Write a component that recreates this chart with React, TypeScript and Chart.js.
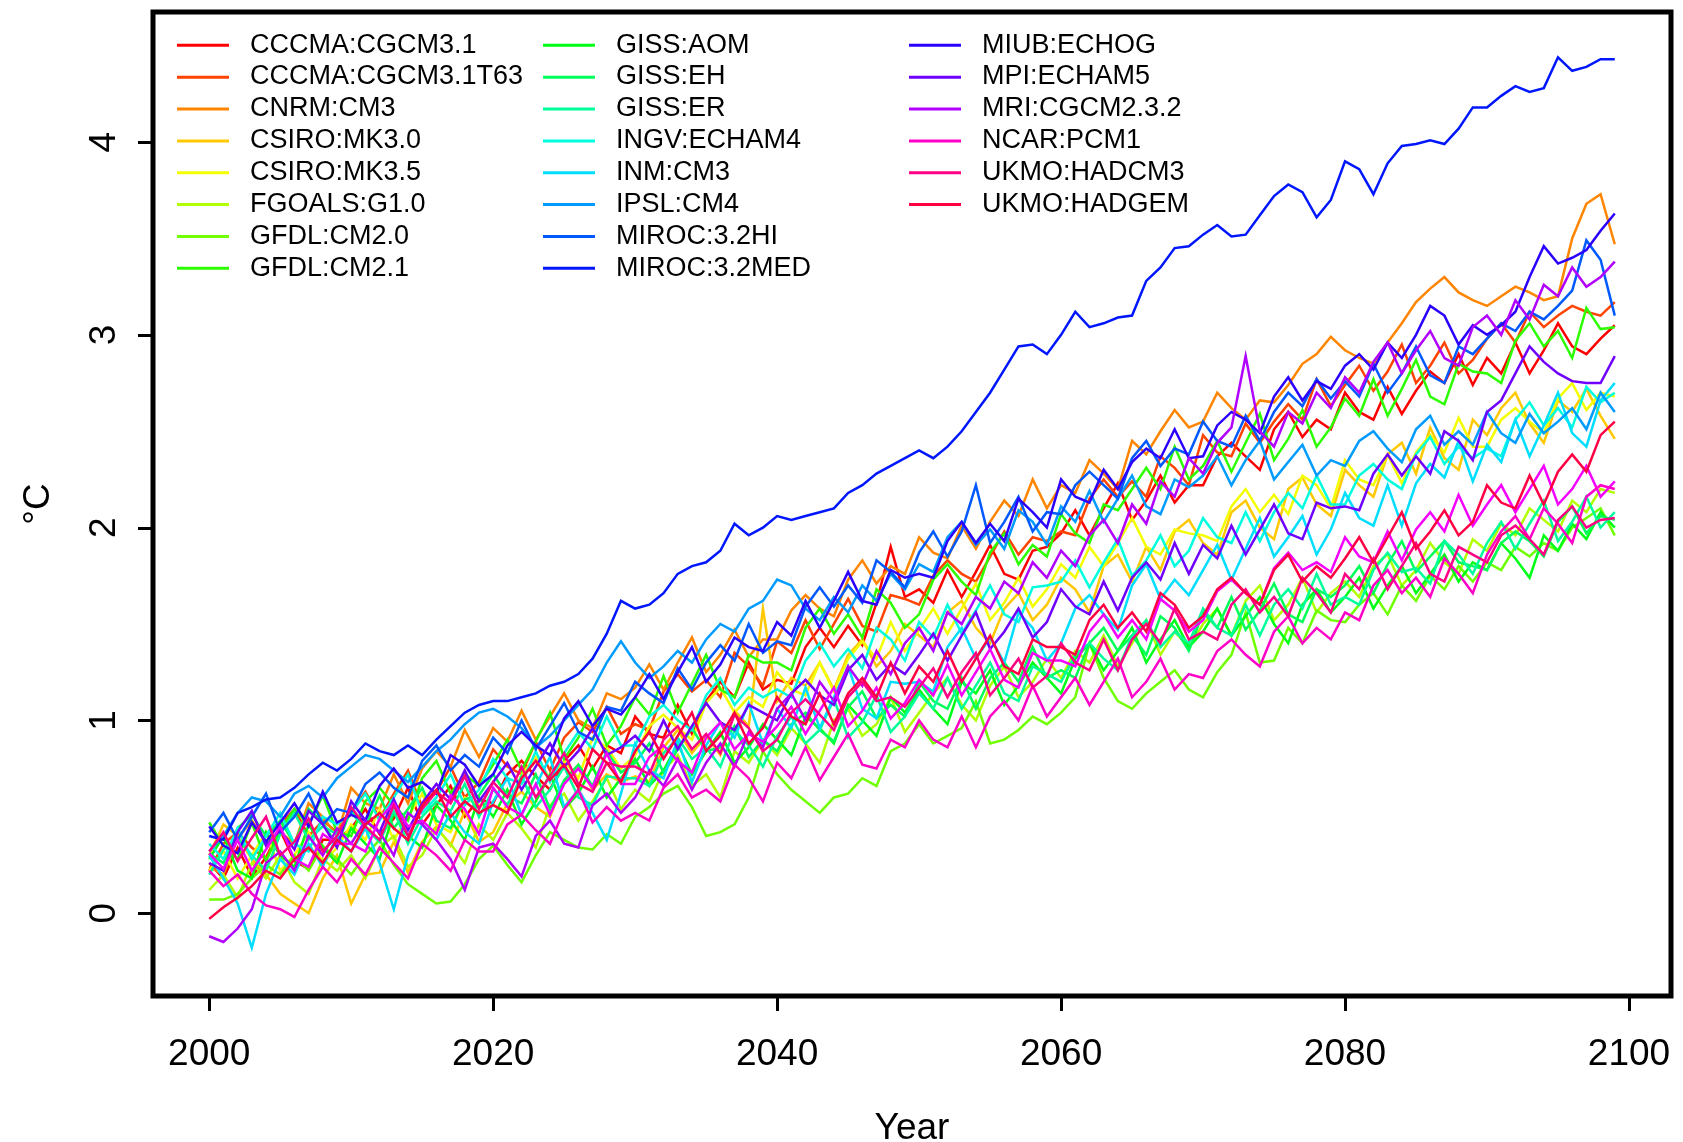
import React, { useEffect, useRef } from "react";
import { Chart, registerables } from "chart.js";

Chart.register(...registerables);

const years = [
  2000, 2001, 2002, 2003, 2004, 2005, 2006, 2007, 2008, 2009,
  2010, 2011, 2012, 2013, 2014, 2015, 2016, 2017, 2018, 2019,
  2020, 2021, 2022, 2023, 2024, 2025, 2026, 2027, 2028, 2029,
  2030, 2031, 2032, 2033, 2034, 2035, 2036, 2037, 2038, 2039,
  2040, 2041, 2042, 2043, 2044, 2045, 2046, 2047, 2048, 2049,
  2050, 2051, 2052, 2053, 2054, 2055, 2056, 2057, 2058, 2059,
  2060, 2061, 2062, 2063, 2064, 2065, 2066, 2067, 2068, 2069,
  2070, 2071, 2072, 2073, 2074, 2075, 2076, 2077, 2078, 2079,
  2080, 2081, 2082, 2083, 2084, 2085, 2086, 2087, 2088, 2089,
  2090, 2091, 2092, 2093, 2094, 2095, 2096, 2097, 2098, 2099,
];

const cccmaCgcm31 = [
  0.26, 0.18, 0.34, 0.19, 0.29, 0.43, 0.27, 0.23, 0.38, 0.38,
  0.44, 0.54, 0.41, 0.49, 0.65, 0.46, 0.56, 0.66, 0.50, 0.59,
  0.57, 0.72, 0.79, 0.71, 0.64, 0.79, 0.87, 0.75, 0.87, 0.83,
  1.02, 0.93, 0.91, 1.08, 0.93, 1.10, 1.20, 1.12, 1.30, 1.16,
  1.21, 1.19, 1.38, 1.48, 1.38, 1.49, 1.39, 1.61, 1.90, 1.64,
  1.68, 1.61, 1.78, 1.64, 1.77, 1.91, 1.76, 1.73, 1.88, 1.90,
  1.97, 2.09, 1.96, 2.10, 2.23, 2.04, 2.14, 2.27, 2.13, 2.22,
  2.22, 2.37, 2.44, 2.37, 2.30, 2.51, 2.60, 2.47, 2.56, 2.51,
  2.70, 2.60, 2.56, 2.73, 2.59, 2.71, 2.81, 2.75, 2.90, 2.74,
  2.88, 2.80, 2.96, 2.80, 2.92, 3.06, 2.94, 2.90, 2.98, 3.05,
];

const cccmaCgcm31T63 = [
  0.22, 0.36, 0.42, 0.34, 0.28, 0.46, 0.54, 0.40, 0.48, 0.42,
  0.52, 0.63, 0.49, 0.62, 0.74, 0.55, 0.63, 0.76, 0.60, 0.68,
  0.85, 0.76, 0.72, 0.89, 0.74, 0.91, 0.99, 0.94, 1.07, 0.93,
  0.98, 0.95, 1.15, 1.24, 1.15, 1.21, 1.12, 1.35, 1.28, 1.18,
  1.41, 1.35, 1.52, 1.37, 1.50, 1.63, 1.49, 1.46, 1.65, 1.63,
  1.60, 1.75, 1.83, 1.76, 1.72, 1.85, 1.98, 1.86, 1.95, 1.93,
  1.98, 1.96, 2.15, 2.25, 2.16, 2.24, 2.16, 2.37, 2.31, 2.22,
  2.48, 2.39, 2.37, 2.54, 2.44, 2.55, 2.64, 2.56, 2.77, 2.63,
  2.74, 2.84, 2.71, 2.81, 2.95, 2.75, 2.84, 2.96, 2.80, 2.87,
  2.98, 3.06, 2.96, 3.12, 3.04, 3.10, 3.15, 3.12, 3.10, 3.17,
];

const cnrmCm3 = [
  0.24, 0.20, 0.39, 0.48, 0.37, 0.42, 0.36, 0.57, 0.50, 0.40,
  0.65, 0.57, 0.54, 0.72, 0.57, 0.75, 0.84, 0.76, 0.95, 0.81,
  0.96, 0.89, 1.05, 0.90, 1.02, 1.14, 1.00, 0.96, 1.14, 1.11,
  1.17, 1.29, 1.16, 1.30, 1.43, 1.25, 1.34, 1.47, 1.33, 1.42,
  1.42, 1.57, 1.65, 1.58, 1.54, 1.73, 1.83, 1.71, 1.80, 1.76,
  1.95, 1.87, 1.84, 2.01, 1.89, 2.03, 2.14, 2.06, 2.25, 2.10,
  2.22, 2.18, 2.35, 2.28, 2.20, 2.45, 2.38, 2.50, 2.61, 2.52,
  2.55, 2.70, 2.62, 2.56, 2.66, 2.65, 2.74, 2.85, 2.90, 2.99,
  2.92, 2.88, 2.85, 2.96, 3.06, 3.17, 3.24, 3.30, 3.22, 3.18,
  3.15, 3.20, 3.25, 3.22, 3.18, 3.20, 3.50, 3.68, 3.73, 3.47,
];

const csiroMk30 = [
  0.30, 0.46, 0.40, 0.28, 0.20, 0.10, 0.05, 0.00, 0.18, 0.30,
  0.05, 0.20, 0.21, 0.37, 0.21, 0.37, 0.45, 0.35, 0.53, 0.37,
  0.42, 0.57, 0.63, 0.55, 0.50, 0.68, 0.77, 0.64, 0.72, 0.68,
  0.71, 0.68, 0.86, 0.95, 0.83, 0.92, 0.82, 1.05, 0.97, 1.58,
  1.10, 1.22, 1.18, 1.30, 1.16, 1.34, 1.42, 1.28, 1.36, 1.50,
  1.44, 1.38, 1.56, 1.62, 1.48, 1.40, 1.58, 1.66, 1.52, 1.60,
  1.74, 1.68, 1.56, 1.80, 1.86, 1.72, 1.90, 1.78, 1.98, 2.04,
  1.92, 1.86, 2.08, 2.14, 2.00, 1.94, 2.20, 2.26, 2.12, 2.06,
  2.30, 2.22, 2.16, 2.38, 2.44, 2.28, 2.52, 2.36, 2.30, 2.56,
  2.48, 2.62, 2.70, 2.54, 2.44, 2.66, 2.60, 2.72, 2.58, 2.46,
];

const csiroMk35 = [
  0.22, 0.32, 0.18, 0.30, 0.42, 0.22, 0.30, 0.42, 0.26, 0.34,
  0.46, 0.38, 0.54, 0.38, 0.50, 0.62, 0.46, 0.42, 0.60, 0.56,
  0.56, 0.53, 0.72, 0.81, 0.70, 0.79, 0.70, 0.91, 0.86, 0.75,
  0.82, 0.97, 1.03, 0.96, 0.90, 1.09, 1.17, 1.04, 1.12, 1.07,
  1.25, 1.16, 1.13, 1.30, 1.15, 1.32, 1.41, 1.32, 1.51, 1.36,
  1.47, 1.58, 1.45, 1.58, 1.71, 1.52, 1.61, 1.74, 1.59, 1.68,
  1.81, 1.74, 1.90, 1.80, 1.92, 2.05, 1.90, 1.86, 1.99, 1.97,
  1.96, 1.93, 2.11, 2.20, 2.08, 2.17, 2.07, 2.27, 2.22, 2.10,
  2.35, 2.25, 2.22, 2.38, 2.23, 2.39, 2.48, 2.39, 2.57, 2.42,
  2.42, 2.56, 2.62, 2.55, 2.49, 2.67, 2.75, 2.61, 2.70, 2.68,
];

const fgoalsG10 = [
  0.12, 0.20, 0.08, 0.26, 0.18, 0.30, 0.16, 0.10, 0.28, 0.22,
  0.30, 0.18, 0.34, 0.40, 0.24, 0.30, 0.44, 0.36, 0.26, 0.46,
  0.38, 0.52, 0.44, 0.34, 0.56, 0.62, 0.48, 0.58, 0.70, 0.54,
  0.64, 0.58, 0.74, 0.82, 0.66, 0.72, 0.60, 0.84, 0.78, 0.90,
  0.82, 0.96, 0.88, 0.78, 1.00, 1.06, 0.92, 0.98, 1.12, 0.94,
  1.04, 1.14, 1.22, 1.08, 1.00, 1.18, 1.28, 1.12, 1.20, 1.32,
  1.22, 1.36, 1.30, 1.44, 1.28, 1.40, 1.52, 1.34, 1.46, 1.38,
  1.50, 1.58, 1.44, 1.62, 1.70, 1.52, 1.60, 1.74, 1.56, 1.66,
  1.72, 1.64, 1.80, 1.86, 1.70, 1.78, 1.92, 1.82, 1.76, 1.94,
  1.88, 2.02, 1.96, 2.10, 2.04, 1.98, 2.14, 2.08, 2.20, 2.18,
];

const gfdlCm20 = [
  0.07, 0.07, 0.10, 0.18, 0.25, 0.20, 0.30, 0.22, 0.35, 0.28,
  0.20, 0.30, 0.38, 0.25, 0.15, 0.10, 0.05, 0.06, 0.15, 0.28,
  0.35, 0.25, 0.16, 0.30, 0.42, 0.38, 0.34, 0.33, 0.41, 0.36,
  0.50, 0.55, 0.62, 0.66, 0.55, 0.40, 0.42, 0.46, 0.60, 0.84,
  0.72, 0.64, 0.58, 0.52, 0.60, 0.62, 0.70, 0.66, 0.84, 0.88,
  0.98, 0.88, 0.92, 0.96, 1.10, 0.88, 0.90, 0.95, 1.02, 0.98,
  1.04, 1.12, 1.40, 1.22, 1.10, 1.06, 1.14, 1.20, 1.26, 1.16,
  1.12, 1.25, 1.34, 1.56, 1.30, 1.31, 1.48, 1.40, 1.57, 1.52,
  1.51, 1.60, 1.66, 1.55, 1.70, 1.62, 1.75, 1.68, 1.80, 1.72,
  1.82, 1.78, 1.90, 1.85, 1.92, 1.88, 2.00, 2.05, 2.10, 1.96,
];

const gfdlCm21 = [
  0.47, 0.35, 0.28, 0.47, 0.27, 0.43, 0.54, 0.46, 0.61, 0.42,
  0.40, 0.58, 0.65, 0.56, 0.48, 0.70, 0.79, 0.62, 0.72, 0.66,
  0.77, 0.90, 0.74, 0.89, 1.04, 0.80, 0.91, 1.06, 0.87, 0.97,
  1.12, 1.03, 1.23, 1.04, 1.19, 1.34, 1.16, 1.12, 1.34, 1.30,
  1.30, 1.26, 1.48, 1.58, 1.45, 1.55, 1.43, 1.68, 1.61, 1.48,
  1.55, 1.73, 1.81, 1.72, 1.65, 1.87, 1.97, 1.81, 1.91, 1.85,
  2.07, 1.97, 1.92, 2.12, 2.09, 2.20, 2.31, 2.20, 2.42, 2.25,
  2.32, 2.45, 2.29, 2.44, 2.59, 2.35, 2.46, 2.61, 2.42, 2.52,
  2.67, 2.58, 2.77, 2.58, 2.72, 2.87, 2.68, 2.64, 2.85, 2.81,
  2.80, 2.75, 2.97, 3.06, 2.94, 3.02, 2.88, 3.14, 3.03, 3.04,
];

const gissAom = [
  0.28, 0.40, 0.22, 0.18, 0.42, 0.30, 0.24, 0.46, 0.34, 0.26,
  0.44, 0.36, 0.28, 0.52, 0.40, 0.34, 0.56, 0.48, 0.38, 0.60,
  0.50, 0.64, 0.46, 0.58, 0.72, 0.54, 0.62, 0.76, 0.60, 0.70,
  0.80, 0.66, 0.74, 0.88, 0.72, 0.84, 0.94, 0.78, 0.86, 0.98,
  0.90, 0.82, 1.02, 0.96, 0.88, 1.08, 1.00, 0.92, 1.12, 1.04,
  1.16, 1.06, 0.98, 1.20, 1.14, 1.26, 1.08, 1.18, 1.30, 1.22,
  1.14, 1.32, 1.40, 1.26, 1.36, 1.48, 1.30, 1.42, 1.52, 1.38,
  1.46, 1.58, 1.44, 1.54, 1.64, 1.50, 1.40, 1.60, 1.68, 1.56,
  1.64, 1.74, 1.58, 1.70, 1.80, 1.66, 1.76, 1.86, 1.72, 1.82,
  1.78, 1.92, 1.84, 1.74, 1.96, 1.88, 2.02, 1.94, 2.08, 2.00,
];

const gissEh = [
  0.31, 0.26, 0.44, 0.51, 0.40, 0.48, 0.36, 0.54, 0.47, 0.35,
  0.54, 0.45, 0.61, 0.44, 0.54, 0.65, 0.48, 0.44, 0.59, 0.61,
  0.72, 0.61, 0.57, 0.72, 0.54, 0.69, 0.77, 0.66, 0.84, 0.73,
  0.78, 0.88, 0.73, 0.85, 0.96, 0.84, 0.86, 0.97, 0.81, 0.90,
  0.84, 0.98, 1.04, 0.95, 0.89, 1.07, 1.15, 1.01, 1.08, 1.02,
  1.20, 1.10, 1.06, 1.22, 1.06, 1.22, 1.30, 1.20, 1.38, 1.22,
  1.26, 1.22, 1.40, 1.48, 1.36, 1.44, 1.34, 1.54, 1.48, 1.36,
  1.56, 1.48, 1.64, 1.47, 1.57, 1.71, 1.55, 1.51, 1.68, 1.64,
  1.70, 1.80, 1.66, 1.81, 1.93, 1.77, 1.85, 1.93, 1.82, 1.80,
  1.78, 1.92, 1.98, 1.93, 1.85, 2.03, 2.11, 1.97, 2.06, 2.04,
];

const gissEr = [
  0.20, 0.33, 0.39, 0.30, 0.22, 0.41, 0.52, 0.38, 0.45, 0.41,
  0.52, 0.44, 0.37, 0.53, 0.36, 0.50, 0.58, 0.53, 0.67, 0.50,
  0.64, 0.56, 0.71, 0.55, 0.64, 0.76, 0.60, 0.56, 0.71, 0.70,
  0.70, 0.66, 0.83, 0.91, 0.80, 0.86, 0.76, 0.95, 0.87, 0.76,
  0.92, 1.02, 0.88, 0.95, 1.11, 0.91, 0.99, 1.13, 0.94, 1.02,
  1.14, 1.06, 1.22, 1.06, 1.18, 1.30, 1.14, 1.10, 1.28, 1.24,
  1.20, 1.34, 1.40, 1.32, 1.26, 1.44, 1.52, 1.38, 1.46, 1.40,
  1.58, 1.48, 1.44, 1.60, 1.44, 1.60, 1.68, 1.58, 1.76, 1.60,
  1.64, 1.60, 1.78, 1.87, 1.77, 1.79, 1.71, 1.93, 1.86, 1.76,
  1.92, 2.03, 1.89, 2.02, 2.14, 1.93, 2.03, 2.16, 2.00, 2.08,
];

const ingvEcham4 = [
  0.36, 0.28, 0.44, 0.28, 0.40, 0.52, 0.36, 0.32, 0.50, 0.46,
  0.52, 0.62, 0.48, 0.60, 0.72, 0.52, 0.60, 0.72, 0.56, 0.64,
  0.80, 0.70, 0.67, 0.84, 0.68, 0.83, 0.94, 0.85, 1.02, 0.87,
  0.87, 1.02, 1.08, 1.00, 0.95, 1.13, 1.22, 1.08, 1.17, 1.12,
  1.16, 1.12, 1.31, 1.40, 1.28, 1.37, 1.27, 1.48, 1.42, 1.31,
  1.51, 1.43, 1.60, 1.45, 1.57, 1.70, 1.55, 1.51, 1.69, 1.70,
  1.72, 1.83, 1.69, 1.82, 1.94, 1.75, 1.83, 1.96, 1.80, 1.88,
  2.05, 1.95, 1.92, 2.08, 1.93, 2.08, 2.18, 2.10, 2.27, 2.12,
  2.12, 2.27, 2.33, 2.25, 2.20, 2.38, 2.47, 2.33, 2.42, 2.36,
  2.41, 2.37, 2.56, 2.65, 2.53, 2.62, 2.52, 2.73, 2.65, 2.70,
];

const inmCm3 = [
  0.30, 0.18, 0.05, -0.18, 0.10, 0.28, 0.20, 0.36, 0.24, 0.40,
  0.32, 0.44, 0.26, 0.02, 0.30, 0.46, 0.38, 0.52, 0.42, 0.36,
  0.58, 0.70, 0.51, 0.66, 0.81, 0.55, 0.64, 0.52, 0.38, 0.62,
  0.88, 0.74, 0.70, 0.90, 0.68, 0.87, 0.99, 0.91, 1.09, 0.88,
  1.06, 0.96, 1.17, 0.96, 1.12, 1.28, 1.06, 1.01, 1.20, 1.19,
  1.20, 1.15, 1.38, 1.48, 1.32, 1.43, 1.30, 1.56, 1.48, 1.31,
  1.40, 1.58, 1.65, 1.55, 1.47, 1.70, 1.81, 1.63, 1.73, 1.65,
  1.78, 1.91, 1.73, 1.89, 2.05, 1.85, 1.95, 2.06, 1.86, 1.99,
  2.18, 2.05, 2.01, 2.22, 2.01, 2.23, 2.33, 2.26, 2.45, 2.24,
  2.43, 2.34, 2.56, 2.37, 2.53, 2.70, 2.49, 2.42, 2.66, 2.75,
];

const ipslCm4 = [
  0.32, 0.40, 0.52, 0.60, 0.58, 0.50, 0.62, 0.66, 0.60, 0.70,
  0.76, 0.82, 0.80, 0.74, 0.68, 0.76, 0.84, 0.90, 0.98, 1.04,
  1.06, 1.02, 0.96, 0.86, 0.92, 1.00, 1.08, 1.16, 1.30, 1.41,
  1.30, 1.22, 1.28, 1.36, 1.30, 1.42, 1.50, 1.46, 1.58, 1.62,
  1.73, 1.70, 1.58, 1.52, 1.64, 1.56, 1.70, 1.62, 1.76, 1.68,
  1.81, 1.77, 1.95, 2.03, 1.91, 1.99, 1.89, 2.09, 2.03, 1.91,
  2.11, 2.03, 2.19, 2.03, 2.15, 2.27, 2.11, 2.07, 2.25, 2.21,
  2.27, 2.37, 2.22, 2.35, 2.45, 2.25, 2.34, 2.43, 2.27, 2.35,
  2.32, 2.45, 2.50, 2.41, 2.34, 2.51, 2.58, 2.43, 2.50, 2.43,
  2.60, 2.49, 2.44, 2.59, 2.49, 2.55, 2.62, 2.51, 2.70, 2.60,
];

const miroc32Hi = [
  0.42, 0.52, 0.38, 0.50, 0.62, 0.42, 0.50, 0.62, 0.46, 0.54,
  0.52, 0.67, 0.73, 0.65, 0.60, 0.79, 0.87, 0.74, 0.82, 0.76,
  0.91, 0.83, 1.00, 0.85, 0.97, 1.09, 0.94, 0.90, 1.07, 1.05,
  1.20, 1.14, 1.09, 1.27, 1.16, 1.30, 1.39, 1.31, 1.50, 1.35,
  1.41, 1.39, 1.59, 1.69, 1.59, 1.70, 1.61, 1.83, 1.77, 1.69,
  1.87, 1.98, 1.85, 1.98, 2.22, 1.92, 2.03, 2.16, 1.98, 2.08,
  2.07, 2.22, 2.29, 2.22, 2.15, 2.36, 2.45, 2.32, 2.41, 2.38,
  2.55, 2.45, 2.42, 2.58, 2.45, 2.60, 2.70, 2.63, 2.77, 2.67,
  2.76, 2.68, 2.85, 2.70, 2.80, 2.94, 2.79, 2.75, 2.94, 2.90,
  2.98, 3.06, 3.02, 3.12, 3.08, 3.15, 3.23, 3.49, 3.39, 3.10,
];

const miroc32Med = [
  0.40, 0.38, 0.52, 0.55, 0.59, 0.60, 0.65, 0.72, 0.78, 0.74,
  0.80, 0.88, 0.84, 0.82, 0.87, 0.82, 0.90, 0.97, 1.04, 1.08,
  1.10, 1.10, 1.12, 1.14, 1.18, 1.20, 1.24, 1.32, 1.45, 1.62,
  1.58, 1.60, 1.66, 1.76, 1.80, 1.82, 1.88, 2.02, 1.96, 2.00,
  2.06, 2.04, 2.06, 2.08, 2.10, 2.18, 2.22, 2.28, 2.32, 2.36,
  2.40, 2.36, 2.42, 2.50, 2.60, 2.70, 2.82, 2.94, 2.95, 2.90,
  3.00, 3.12, 3.04, 3.06, 3.09, 3.10, 3.28, 3.35, 3.45, 3.46,
  3.52, 3.57, 3.51, 3.52, 3.62, 3.72, 3.78, 3.74, 3.61, 3.70,
  3.90, 3.86, 3.73, 3.89, 3.98, 3.99, 4.01, 3.99, 4.07, 4.18,
  4.18, 4.24, 4.29, 4.26, 4.28, 4.44, 4.37, 4.39, 4.43, 4.43,
];

const miubEchog = [
  0.45, 0.35, 0.31, 0.47, 0.37, 0.47, 0.57, 0.45, 0.63, 0.47,
  0.51, 0.48, 0.66, 0.75, 0.65, 0.68, 0.62, 0.82, 0.77, 0.66,
  0.72, 0.87, 0.94, 0.87, 0.82, 1.01, 1.10, 0.97, 1.06, 1.03,
  1.12, 1.24, 1.11, 1.25, 1.38, 1.20, 1.29, 1.43, 1.38, 1.36,
  1.51, 1.44, 1.62, 1.48, 1.62, 1.77, 1.62, 1.60, 1.78, 1.74,
  1.76, 1.74, 1.93, 2.03, 1.92, 2.02, 1.93, 2.15, 2.08, 2.00,
  2.25, 2.16, 2.13, 2.30, 2.20, 2.34, 2.41, 2.36, 2.51, 2.36,
  2.37, 2.53, 2.60, 2.56, 2.49, 2.68, 2.78, 2.66, 2.76, 2.72,
  2.84, 2.90, 2.82, 2.96, 2.88, 3.00, 3.15, 3.10, 2.95, 3.05,
  3.00, 3.05, 3.12, 3.30, 3.46, 3.37, 3.40, 3.44, 3.54, 3.63,
];

const mpiEcham5 = [
  0.26, 0.22, 0.42, 0.53, 0.35, 0.43, 0.33, 0.53, 0.46, 0.34,
  0.58, 0.48, 0.42, 0.59, 0.43, 0.57, 0.67, 0.59, 0.74, 0.58,
  0.68, 0.78, 0.64, 0.76, 0.88, 0.76, 0.84, 0.96, 0.82, 0.86,
  0.92, 0.84, 1.00, 0.85, 0.97, 1.09, 0.99, 0.95, 1.08, 1.04,
  1.00, 1.14, 1.21, 1.13, 1.08, 1.26, 1.34, 1.21, 1.29, 1.24,
  1.34, 1.45, 1.31, 1.44, 1.56, 1.37, 1.46, 1.58, 1.43, 1.51,
  1.68, 1.59, 1.55, 1.72, 1.57, 1.74, 1.82, 1.73, 1.92, 1.76,
  1.91, 1.84, 2.01, 1.86, 1.99, 2.12, 1.97, 1.94, 2.13, 2.10,
  2.11, 2.09, 2.28, 2.38, 2.27, 2.37, 2.28, 2.50, 2.45, 2.35,
  2.60, 2.66, 2.80, 2.94, 2.86, 2.80, 2.76, 2.75, 2.75, 2.89,
];

const mriCgcm232 = [
  -0.12, -0.15, -0.08, 0.02, 0.26, 0.32, 0.22, 0.40, 0.30, 0.44,
  0.36, 0.48, 0.42, 0.30, 0.52, 0.46, 0.38, 0.28, 0.12, 0.34,
  0.36, 0.28, 0.19, 0.40, 0.48, 0.36, 0.34, 0.56, 0.62, 0.52,
  0.60, 0.74, 0.66, 0.80, 0.64, 0.78, 0.88, 0.76, 0.94, 0.86,
  1.06, 1.14, 1.00, 1.20, 1.10, 1.28, 1.18, 1.36, 1.24, 1.40,
  1.48, 1.36, 1.56, 1.50, 1.64, 1.58, 1.72, 1.66, 1.82, 1.74,
  1.88, 1.80, 1.96, 2.04, 1.92, 2.12, 2.02, 2.24, 2.16, 2.36,
  2.28, 2.44, 2.52, 2.89, 2.50, 2.42, 2.60, 2.54, 2.70, 2.62,
  2.78, 2.70, 2.86, 2.96, 2.80, 2.92, 3.02, 2.88, 2.84, 3.04,
  3.10, 3.00, 3.18, 3.08, 3.26, 3.20, 3.35, 3.25, 3.30, 3.38,
];

const unlabelledModel = [
  0.31, 0.23, 0.38, 0.22, 0.33, 0.45, 0.28, 0.24, 0.41, 0.36,
  0.36, 0.32, 0.49, 0.57, 0.45, 0.48, 0.41, 0.61, 0.54, 0.41,
  0.65, 0.55, 0.51, 0.67, 0.51, 0.67, 0.75, 0.65, 0.83, 0.67,
  0.67, 0.81, 0.87, 0.79, 0.73, 0.91, 0.99, 0.85, 0.93, 0.89,
  0.97, 1.07, 0.93, 1.05, 1.17, 0.97, 1.05, 1.17, 1.01, 1.09,
  1.21, 1.13, 1.29, 1.13, 1.25, 1.37, 1.21, 1.17, 1.35, 1.31,
  1.31, 1.28, 1.46, 1.55, 1.43, 1.52, 1.42, 1.63, 1.57, 1.46,
  1.52, 1.67, 1.73, 1.66, 1.60, 1.79, 1.87, 1.78, 1.82, 1.77,
  1.95, 1.85, 1.82, 1.98, 1.83, 1.99, 2.08, 1.98, 2.17, 2.01,
  2.12, 2.22, 2.08, 2.20, 2.32, 2.12, 2.20, 2.32, 2.16, 2.24,
];

const ncarPcm1 = [
  0.22, 0.14, 0.20, 0.10, 0.04, 0.02, -0.02, 0.12, 0.24, 0.16,
  0.28, 0.20, 0.34, 0.26, 0.18, 0.36, 0.30, 0.22, 0.38, 0.32,
  0.32, 0.46, 0.51, 0.43, 0.36, 0.54, 0.64, 0.47, 0.55, 0.48,
  0.52, 0.48, 0.65, 0.72, 0.60, 0.64, 0.58, 0.77, 0.70, 0.58,
  0.78, 0.70, 0.86, 0.69, 0.81, 0.93, 0.77, 0.75, 0.90, 0.86,
  1.00, 0.90, 0.86, 1.02, 0.86, 1.02, 1.10, 1.00, 1.18, 1.02,
  1.12, 1.22, 1.08, 1.20, 1.32, 1.12, 1.20, 1.32, 1.16, 1.24,
  1.22, 1.36, 1.42, 1.34, 1.28, 1.46, 1.54, 1.40, 1.48, 1.42,
  1.56, 1.52, 1.70, 1.78, 1.66, 1.74, 1.64, 1.84, 1.76, 1.66,
  1.86, 1.98, 2.06, 1.94, 2.10, 2.02, 1.92, 2.16, 2.22, 2.20,
];

const ukmoHadcm3 = [
  0.32, 0.42, 0.27, 0.39, 0.50, 0.30, 0.37, 0.49, 0.32, 0.40,
  0.55, 0.45, 0.38, 0.56, 0.40, 0.54, 0.63, 0.57, 0.71, 0.54,
  0.68, 0.60, 0.76, 0.60, 0.71, 0.83, 0.67, 0.63, 0.78, 0.76,
  0.76, 0.72, 0.90, 0.97, 0.85, 0.93, 0.83, 1.03, 0.96, 0.84,
  0.90, 1.04, 1.11, 1.03, 0.95, 1.12, 1.20, 1.10, 1.12, 1.07,
  1.17, 1.27, 1.12, 1.25, 1.35, 1.13, 1.22, 1.32, 1.17, 1.23,
  1.40, 1.30, 1.26, 1.42, 1.26, 1.42, 1.50, 1.40, 1.58, 1.42,
  1.46, 1.42, 1.60, 1.68, 1.56, 1.64, 1.54, 1.74, 1.66, 1.56,
  1.76, 1.68, 1.84, 1.68, 1.80, 1.92, 1.76, 1.72, 1.90, 1.86,
  1.82, 1.96, 2.01, 1.94, 1.86, 2.04, 2.11, 2.00, 2.04, 2.05,
];

const ukmoHadgem = [
  -0.03, 0.03, 0.08, 0.14, 0.22, 0.18, 0.28, 0.34, 0.26, 0.38,
  0.32, 0.46, 0.52, 0.44, 0.38, 0.56, 0.64, 0.50, 0.58, 0.52,
  0.56, 0.52, 0.70, 0.79, 0.69, 0.77, 0.65, 0.85, 0.78, 0.68,
  0.84, 0.94, 0.80, 0.92, 1.04, 0.84, 0.92, 1.04, 0.88, 0.96,
  1.12, 1.02, 0.98, 1.14, 0.98, 1.14, 1.22, 1.12, 1.30, 1.14,
  1.28, 1.20, 1.36, 1.20, 1.32, 1.44, 1.28, 1.24, 1.42, 1.38,
  1.38, 1.34, 1.52, 1.60, 1.48, 1.56, 1.46, 1.66, 1.60, 1.48,
  1.54, 1.68, 1.74, 1.66, 1.60, 1.78, 1.86, 1.72, 1.80, 1.74,
  1.84, 1.95, 1.82, 1.95, 2.08, 1.89, 1.98, 2.09, 1.96, 2.03,
  2.22, 2.13, 2.10, 2.27, 2.12, 2.29, 2.38, 2.29, 2.48, 2.55,
];

const modelNames = [
  "CCCMA:CGCM3.1", "CCCMA:CGCM3.1T63", "CNRM:CM3", "CSIRO:MK3.0",
  "CSIRO:MK3.5", "FGOALS:G1.0", "GFDL:CM2.0", "GFDL:CM2.1",
  "GISS:AOM", "GISS:EH", "GISS:ER", "INGV:ECHAM4",
  "INM:CM3", "IPSL:CM4", "MIROC:3.2HI", "MIROC:3.2MED",
  "MIUB:ECHOG", "MPI:ECHAM5", "MRI:CGCM2.3.2", "",
  "NCAR:PCM1", "UKMO:HADCM3", "UKMO:HADGEM",
];

const modelValues = [
  cccmaCgcm31, cccmaCgcm31T63, cnrmCm3, csiroMk30,
  csiroMk35, fgoalsG10, gfdlCm20, gfdlCm21,
  gissAom, gissEh, gissEr, ingvEcham4,
  inmCm3, ipslCm4, miroc32Hi, miroc32Med,
  miubEchog, mpiEcham5, mriCgcm232, unlabelledModel,
  ncarPcm1, ukmoHadcm3, ukmoHadgem,
];

const modelColors = [
  "#FF0000", "#FF4300", "#FF8500", "#FFC800",
  "#F4FF00", "#B1FF00", "#6FFF00", "#2CFF00",
  "#00FF16", "#00FF59", "#00FF9B", "#00FFDE",
  "#00DEFF", "#009BFF", "#0059FF", "#0016FF",
  "#2C00FF", "#6F00FF", "#B100FF", "#F400FF",
  "#FF00C8", "#FF0085", "#FF0043",
];

const xTickValues = [2000, 2020, 2040, 2060, 2080, 2100];
const yTickValues = [0, 1, 2, 3, 4];
const legendColumns = [
  [0, 1, 2, 3, 4, 5, 6, 7],
  [8, 9, 10, 11, 12, 13, 14, 15],
  [16, 17, 18, 20, 21, 22],
];
const xAxisTitle = "Year";
const yAxisTitle = "°C";

const FONT = '"Liberation Sans", Arial, Helvetica, sans-serif';

const framePlugin = {
  id: "rFrame",
  afterDraw(chart: any) {
    const { ctx, chartArea: a, scales } = chart;
    const xs = scales.x;
    const ys = scales.y;
    ctx.save();
    ctx.strokeStyle = "#000";
    ctx.lineWidth = 5;
    ctx.strokeRect(a.left, a.top, a.right - a.left, a.bottom - a.top);
    ctx.lineWidth = 3;
    ctx.beginPath();
    xTickValues.forEach((t) => {
      const px = Math.round(xs.getPixelForValue(t)) + 0.5;
      ctx.moveTo(px, a.bottom);
      ctx.lineTo(px, a.bottom + 15);
    });
    yTickValues.forEach((t) => {
      const py = Math.round(ys.getPixelForValue(t)) + 0.5;
      ctx.moveTo(a.left - 15, py);
      ctx.lineTo(a.left, py);
    });
    ctx.stroke();
    ctx.fillStyle = "#000";
    ctx.font = `37px ${FONT}`;
    ctx.textAlign = "center";
    ctx.textBaseline = "alphabetic";
    xTickValues.forEach((t) => {
      ctx.fillText(String(t), xs.getPixelForValue(t), a.bottom + 69);
    });
    yTickValues.forEach((t) => {
      ctx.save();
      ctx.translate(a.left - 38, ys.getPixelForValue(t));
      ctx.rotate(-Math.PI / 2);
      ctx.fillText(String(t), 0, 0);
      ctx.restore();
    });
    ctx.fillText(xAxisTitle, (a.left + a.right) / 2, a.bottom + 143);
    ctx.save();
    ctx.translate(a.left - 104, (a.top + a.bottom) / 2);
    ctx.rotate(-Math.PI / 2);
    ctx.fillText(yAxisTitle, 0, 0);
    ctx.restore();
    const colLineX = [a.left + 24, a.left + 390, a.left + 756];
    const rowY0 = a.top + 33.3;
    const rowStep = 31.86;
    ctx.font = `27px ${FONT}`;
    ctx.textAlign = "left";
    legendColumns.forEach((col, ci) => {
      col.forEach((idx, ri) => {
        const ly = rowY0 + ri * rowStep;
        const lx = colLineX[ci];
        ctx.strokeStyle = modelColors[idx];
        ctx.lineWidth = 3;
        ctx.beginPath();
        ctx.moveTo(lx, ly);
        ctx.lineTo(lx + 52, ly);
        ctx.stroke();
        ctx.fillStyle = "#000";
        ctx.fillText(modelNames[idx], lx + 73, ly + 7.3);
      });
    });
    ctx.restore();
  },
};

export default function App() {
  const canvasRef = useRef<HTMLCanvasElement | null>(null);

  useEffect(() => {
    const canvas = canvasRef.current;
    if (!canvas) return;
    const n = modelValues.length;
    const chart = new Chart(canvas, {
      type: "line",
      data: {
        datasets: modelValues.map((vals, i) => ({
          label: modelNames[i],
          data: vals.map((v, k) => ({ x: years[k], y: v })),
          borderColor: modelColors[i],
          backgroundColor: modelColors[i],
          borderWidth: 2.5,
          pointRadius: 0,
          pointHoverRadius: 0,
          fill: false,
          tension: 0,
          order: n - i,
        })),
      },
      options: {
        responsive: false,
        animation: false,
        events: [],
        layout: { padding: { left: 153, right: 12, top: 12, bottom: 146 } },
        scales: {
          x: { type: "linear", min: 1996.04, max: 2102.96, display: false },
          y: { type: "linear", min: -0.43, max: 4.675, display: false },
        },
        plugins: {
          legend: { display: false },
          tooltip: { enabled: false },
          title: { display: false },
        },
      },
      plugins: [framePlugin],
    } as any);
    return () => chart.destroy();
  }, []);

  return (
    <div style={{ position: "fixed", left: 0, top: 0, width: 1683, height: 1142, background: "#fff" }}>
      <canvas ref={canvasRef} width={1683} height={1142} style={{ display: "block", width: 1683, height: 1142 }} />
    </div>
  );
}
